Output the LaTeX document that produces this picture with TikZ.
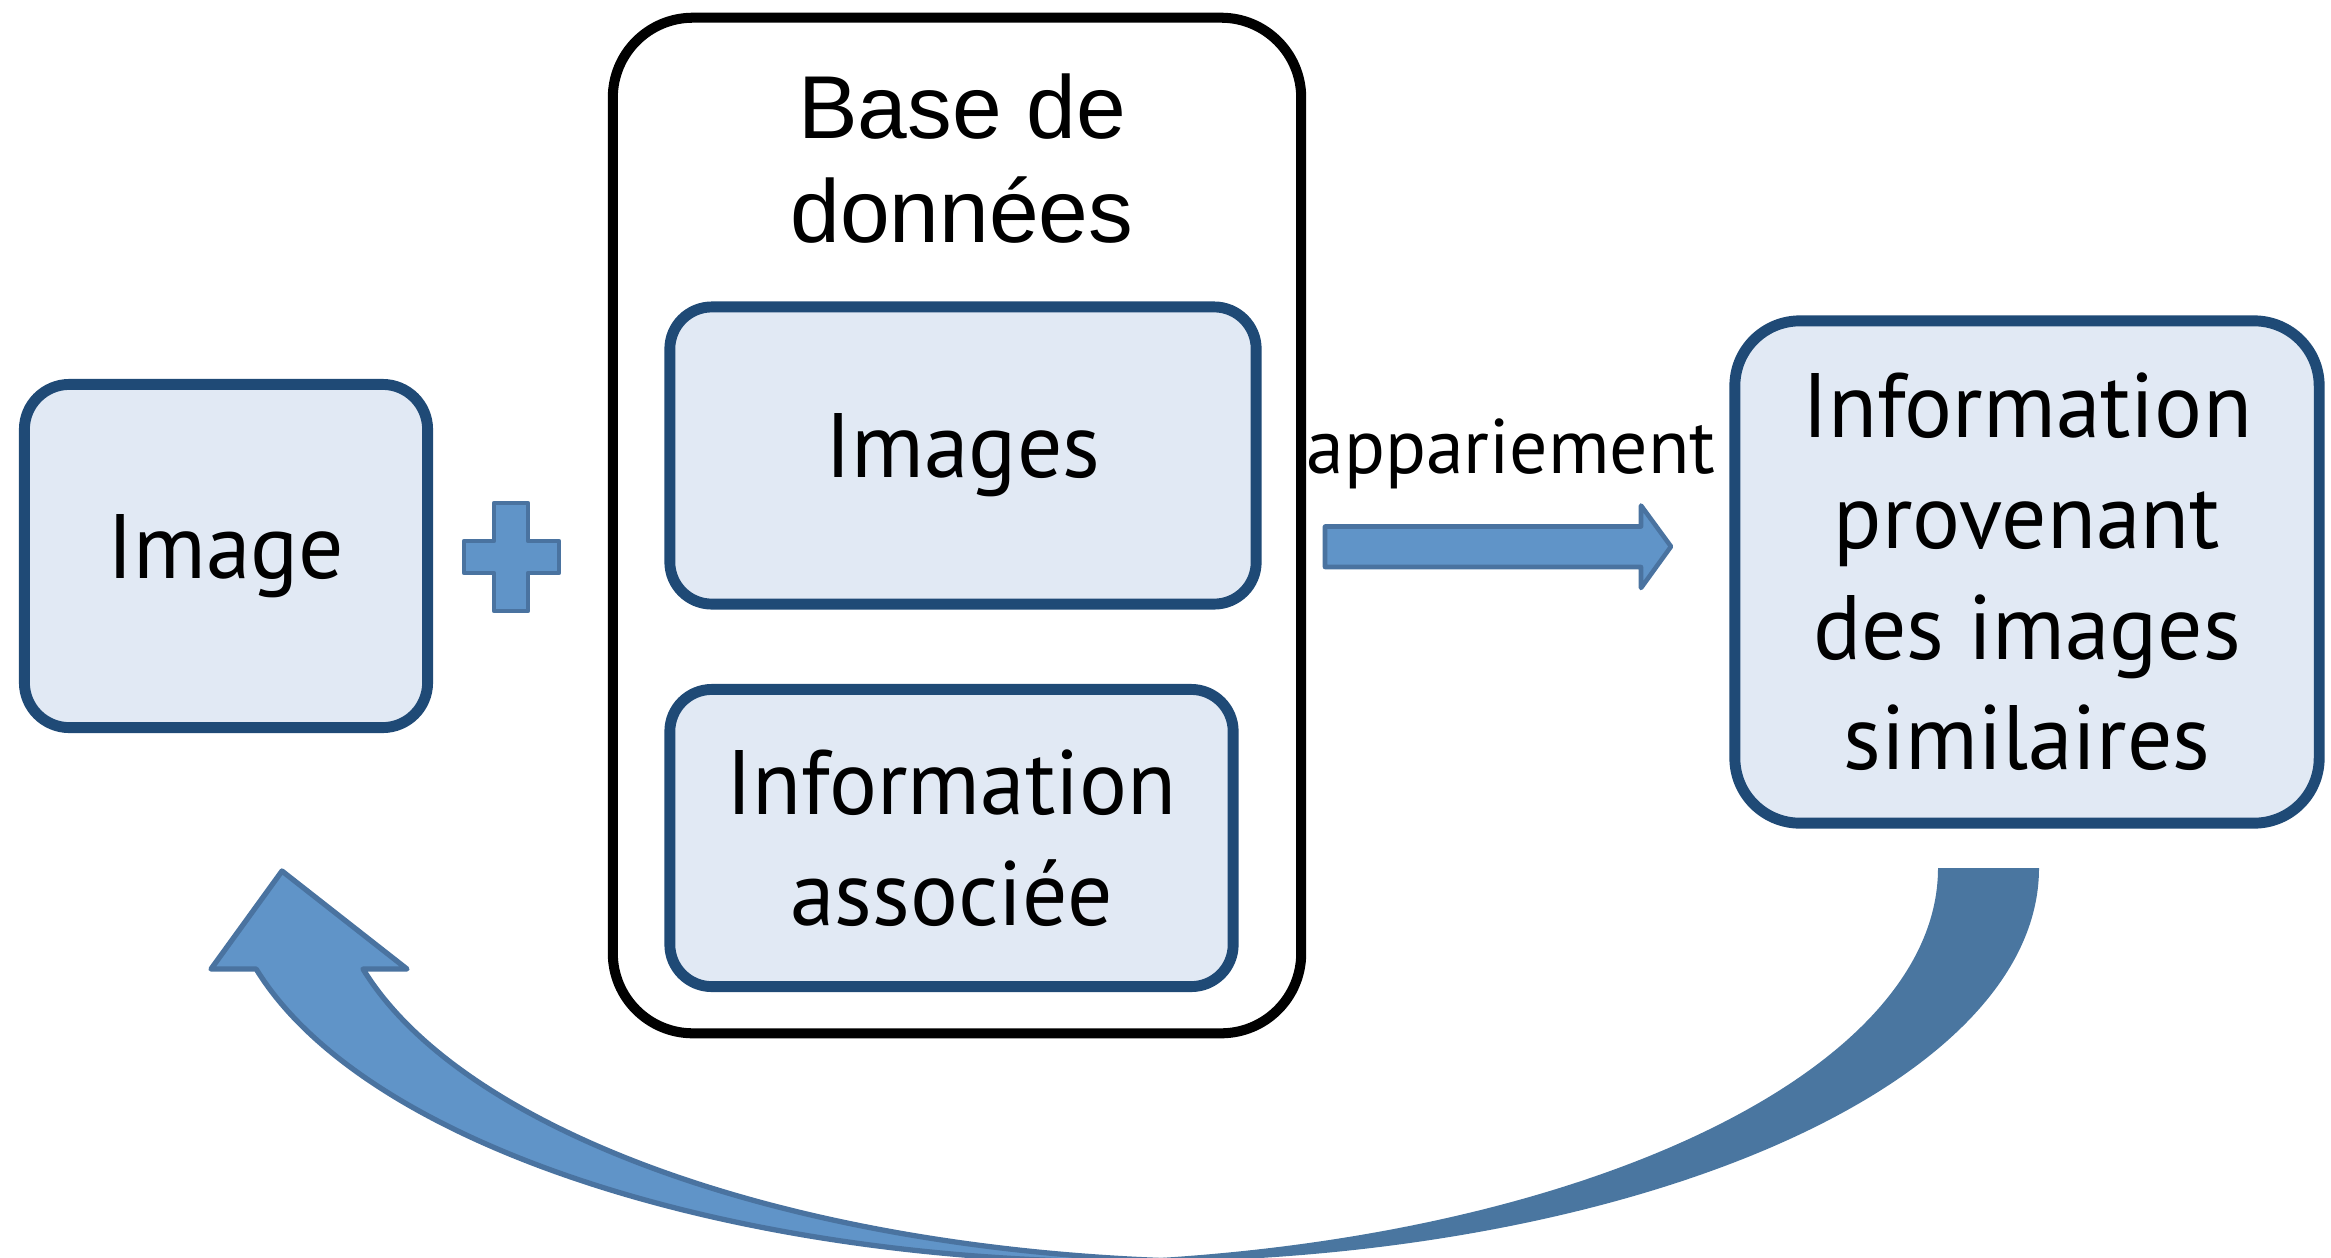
\documentclass[tikz,border=0pt]{standalone}
\usepackage{fontspec}
\setmainfont{PT Sans}[FakeStretch=0.98]
\newfontfamily\dbfont{Liberation Sans}
\definecolor{boxfill}{HTML}{E1E9F4}
\definecolor{boxedge}{HTML}{1F4A76}
\definecolor{arrowfill}{HTML}{6094C8}
\definecolor{arrowedge}{HTML}{4A73A0}
\definecolor{arrowback}{HTML}{4A76A0}
\tikzset{
  bluebox/.style={draw=boxedge, fill=boxfill, line width=3.1pt, align=center, inner sep=0pt},
  bigtext/.style={font=\fontsize{26}{31.5}\selectfont},
  blockarrow/.style={fill=arrowfill, draw=arrowedge, line width=1.3pt, line join=round},
}
\begin{document}
\begin{tikzpicture}[x=0.01cm, y=-0.01cm]
\clip (0,0) rectangle (2331,1257);
% left box and plus
\node[bluebox, bigtext, rounded corners=0.45cm, minimum width=4.03cm, minimum height=3.43cm] (image) at (226,556) {Image};
\filldraw[blockarrow] (494,503) -- (528,503) -- (528,541) -- (559,541) -- (559,573) -- (528,573)
  -- (528,611) -- (494,611) -- (494,573) -- (464,573) -- (464,541) -- (494,541) -- cycle;
% data base
\node[draw, line width=2.85pt, rounded corners=0.8cm, minimum width=6.88cm, minimum height=10.15cm] (db) at (957,525.5) {};
\node[font=\dbfont\fontsize{25.4}{29.6}\selectfont, align=center, inner sep=0pt] (dbtitle) at (962,159) {Base de\\données};
\node[bluebox, bigtext, rounded corners=0.42cm, minimum width=5.86cm, minimum height=2.97cm] (images) at (963,455.5) {Images};
\node[bluebox, bigtext, rounded corners=0.42cm, minimum width=5.63cm, minimum height=2.97cm] (infos) at (951.5,838) {Information\\associée};
% result
\node[bluebox, bigtext, rounded corners=0.65cm, minimum width=5.84cm, minimum height=5.02cm] (result) at (2027,572) {Information\\provenant\\des images\\similaires};
% matching arrow
\coordinate (tail) at (1325,546.5);
\filldraw[blockarrow] (tail) ++(0,-20) -- ++(316,0) -- ++(0,-21) -- (1671,546.5) -- (1641,588) -- ++(0,-21) -- ++(-316,0) -- cycle;
\node[font=\fontsize{22}{26}\selectfont, anchor=base, inner sep=0pt] (match) at (1511,473) {appariement};
% curved arrow back to the image
\fill[arrowback] (2039,868) arc[start angle=0, end angle=90, x radius=909, y radius=394]
  -- (1029,1262) arc[start angle=90, end angle=0, x radius=909, y radius=394] -- cycle;
\filldraw[blockarrow, line width=1.5pt] (211,969) -- (282,871) -- (407,969) -- (363,969)
  arc[start angle=165.15, end angle=93.37, x radius=909, y radius=394]
  arc[start angle=86.63, end angle=165.15, x radius=909, y radius=394] -- cycle;
\end{tikzpicture}
\end{document}
